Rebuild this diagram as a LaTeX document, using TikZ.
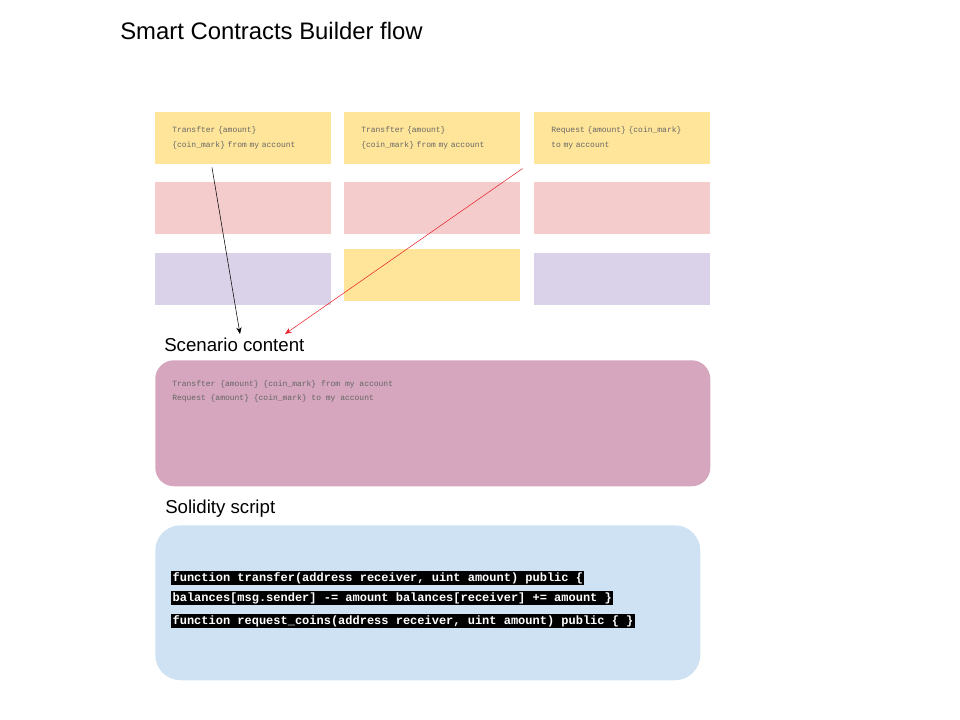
\documentclass[tikz,border=0pt]{standalone}
\usepackage{fontspec}
\setmainfont{Liberation Sans}
\setmonofont{Liberation Mono}
\usetikzlibrary{arrows.meta, positioning, calc}
\definecolor{cardyellow}{HTML}{FFE599}
\definecolor{cardpink}{HTML}{F4CCCC}
\definecolor{cardlilac}{HTML}{D9D2E9}
\definecolor{scenmauve}{HTML}{D5A6BD}
\definecolor{solblue}{HTML}{CFE2F3}
\definecolor{cardtext}{HTML}{666666}
\definecolor{flowred}{HTML}{E8232B}

\begin{document}
\begin{tikzpicture}[x=0.75pt, y=-0.75pt,
  card/.style={anchor=north west, minimum width=132pt, minimum height=39pt,
    inner sep=0pt, inner xsep=12.75pt, text width=106.5pt, align=left,
    font=\ttfamily\fontsize{6}{11.25}\selectfont, text=cardtext},
  caption/.style={anchor=base west, inner sep=0pt, font=\fontsize{14}{16}\selectfont},
  codeline/.style={anchor=west, fill=black, text=white, inner xsep=1pt, inner ysep=0pt,
    minimum height=11pt, font=\ttfamily\bfseries\fontsize{9}{10}\selectfont}]
  \useasboundingbox (0,0) rectangle (960,720);

  \node[anchor=base west, inner sep=0pt, font=\fontsize{17.9}{21}\selectfont] (title) at (120,40) {Smart Contracts Builder flow};

  % first row of cards
  \foreach \i/\x/\txt in {
    1/155/{Transfter \{amount\}\\\{coin\_mark\} from my account},
    2/344/{Transfter \{amount\}\\\{coin\_mark\} from my account},
    3/534/{Request \{amount\} \{coin\_mark\}\\to my account}
  }{
    \node[card, fill=cardyellow] (r1c\i) at (\x,112) {\txt};
    \node[card, fill=cardpink] (r2c\i) at (\x,182) {};
  }
  \node[card, fill=cardlilac] (r3c1) at (155,253) {};
  \node[card, fill=cardyellow] (r3c2) at (344,249) {};
  \node[card, fill=cardlilac] (r3c3) at (534,253) {};

  % scenario
  \node[caption] (scenlbl) at (164,351) {Scenario content};
  \node[anchor=north west, fill=scenmauve, rounded corners=14pt, minimum width=416.25pt,
    minimum height=94.5pt, inner sep=0pt] (scen) at (155,360) {};
  \node[anchor=north west, inner sep=0pt, align=left, text=cardtext,
    font=\ttfamily\fontsize{6}{10.5}\selectfont] (scentxt) at ($(scen.north west)+(17,20)$)
    {Transfter \{amount\} \{coin\_mark\} from my account\\Request \{amount\} \{coin\_mark\} to my account};

  \coordinate (tailA) at ($(r1c1.south west)+(57,3)$);
  \coordinate (headA) at ($(scenlbl.base west)+(76,-17)$);
  \coordinate (tailB) at ($(r1c2.south east)+(2,4)$);
  \coordinate (headB) at ($(scenlbl.base west)+(121,-17)$);
  \draw[-{Stealth[length=5pt, width=4pt]}, black] (tailA) -- (headA);
  \draw[-{Stealth[length=5pt, width=4pt]}, flowred] (tailB) -- (headB);

  % solidity
  \node[caption] (sollbl) at (165,513) {Solidity script};
  \node[anchor=north west, fill=solblue, rounded corners=19pt, minimum width=408.75pt,
    minimum height=116.25pt, inner sep=0pt] (sol) at (155,525) {};
  \node[codeline] (code1) at (171,578) {function transfer(address receiver, uint amount) public \{};
  \node[codeline] (code2) at (171,598) {balances[msg.sender] -= amount balances[receiver] += amount \}};
  \node[codeline] (code3) at (171,621) {function request\_coins(address receiver, uint amount) public \{ \}};
\end{tikzpicture}
\end{document}
